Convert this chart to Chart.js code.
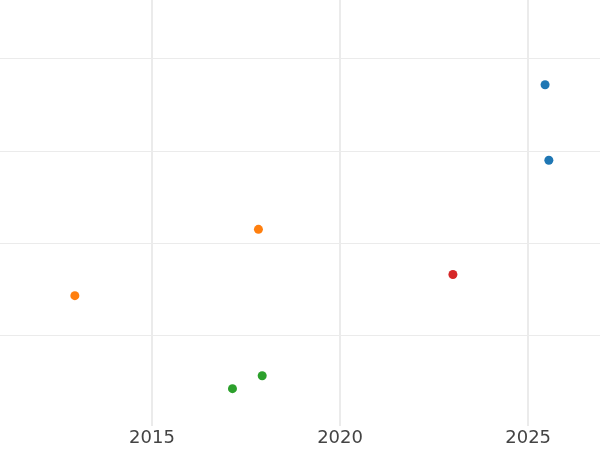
<!DOCTYPE html>
<html>
<head>
<meta charset="utf-8">
<script src="https://cdn.jsdelivr.net/npm/chart.js@4"></script>
<style>
  html, body { margin: 0; padding: 0; background: #fff; }
  #wrap { width: 600px; height: 450px; }
</style>
</head>
<body>
<div id="wrap"><canvas id="chart"></canvas></div>
<script>
// values
const blueX = [2025.45, 2025.55];
const blueY = [3.72, 2.90];
const orangeX = [2017.83, 2012.95];
const orangeY = [2.15, 1.43];
const redX = [2023.0];
const redY = [1.66];
const greenX = [2017.93, 2017.14];
const greenY = [0.56, 0.42];
const xTicks = [2015, 2020, 2025];
const yTicks = [1, 2, 3, 4];

const pts = (xs, ys) => xs.map((x, i) => ({ x: x, y: ys[i] }));

function series(xs, ys, color) {
  return {
    data: pts(xs, ys),
    backgroundColor: color,
    borderColor: color,
    pointRadius: 4.5,
    pointHoverRadius: 4.5,
    borderWidth: 0
  };
}

new Chart(document.getElementById('chart').getContext('2d'), {
  type: 'scatter',
  data: {
    datasets: [
      series(blueX, blueY, '#1f77b4'),
      series(orangeX, orangeY, '#ff7f0e'),
      series(redX, redY, '#d62728'),
      series(greenX, greenY, '#2ca02c')
    ]
  },
  options: {
    responsive: true,
    maintainAspectRatio: false,
    animation: false,
    layout: { padding: 0, autoPadding: false },
    plugins: { legend: { display: false }, tooltip: { enabled: false } },
    scales: {
      x: {
        type: 'linear',
        min: 2010.96,
        max: 2026.91,
        afterBuildTicks: axis => { axis.ticks = xTicks.map(v => ({ value: v })); },
        border: { display: false },
        grid: { color: '#ebebeb', lineWidth: 2, drawTicks: false },
        ticks: {
          padding: 1,
          color: '#444444',
          font: { family: 'DejaVu Sans', size: 18, lineHeight: 1.2 },
          callback: v => String(v)
        }
      },
      y: {
        type: 'linear',
        min: 0.01,
        max: 4.64,
        afterBuildTicks: axis => { axis.ticks = yTicks.map(v => ({ value: v })); },
        border: { display: false },
        grid: { color: '#ebebeb', lineWidth: 1, drawTicks: false },
        ticks: { display: false }
      }
    }
  }
});
</script>
</body>
</html>
